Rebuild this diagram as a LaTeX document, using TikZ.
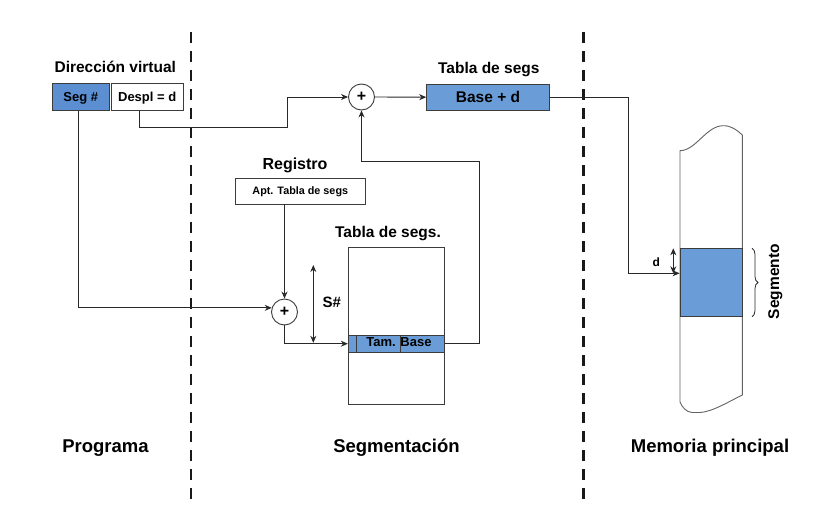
\documentclass[tikz,border=0pt]{standalone}
\usepackage{fontspec}
\setmainfont{Liberation Sans}
\usetikzlibrary{arrows.meta,decorations.pathreplacing}
\definecolor{segblue}{RGB}{106,157,216}
\definecolor{segblued}{RGB}{91,143,210}
\definecolor{ln}{RGB}{40,40,40}
\definecolor{bx}{RGB}{60,60,60}
\newcommand{\fs}[1]{\fontsize{#1}{#1}\selectfont\bfseries}
\begin{document}
\begin{tikzpicture}[x=1pt,y=-1pt,
  arr/.style={draw=ln, line width=0.9pt, -{Stealth[length=7pt,width=6pt]}},
  dbl/.style={draw=ln, line width=0.9pt, {Stealth[length=7pt,width=6pt]}-{Stealth[length=7pt,width=6pt]}},
  plain/.style={draw=ln, line width=0.9pt},
  boxw/.style={draw=bx, line width=0.9pt, fill=white, inner sep=0pt, text depth=0pt},
  boxb/.style={draw=bx, line width=0.9pt, fill=segblue, inner sep=0pt, text depth=0pt},
  plusc/.style={circle, draw=bx, line width=0.9pt, fill=white, minimum size=26pt, inner sep=0pt, font=\fs{16}},
  lbl/.style={anchor=base, inner sep=0pt},
  divider/.style={draw=black!90, line width=2.6pt, dash pattern=on 11pt off 8pt}
]
\fill[white] (0,0) rectangle (838,506);
\useasboundingbox (0,0) rectangle (838,506);

% dividers
\draw[divider] (191,32) -- (191,500);
\draw[divider] (583.5,32) -- (583.5,500);

% Program side
\node[lbl, font=\fs{15.5}] (dv) at (115.3,72.7) {Dirección virtual};
\node[boxb, fill=segblued, minimum width=56.7pt, minimum height=27pt, font=\fs{13}] (seg) at (80.7,97) {Seg \#};
\node[boxw, minimum width=72.3pt, minimum height=27pt, font=\fs{13}] (despl) at (147.2,97) {Despl = d};

% adders
\node[plusc] (plus1) at (361.5,97) {+};
\node[plusc] (plus2) at (284.5,312) {+};

% Tabla de segs (top)
\node[lbl, font=\fs{15.5}] (tsl) at (488.8,73.3) {Tabla de segs};
\node[boxb, minimum width=122.6pt, minimum height=25.7pt, font=\fs{15.5}] (base) at (488,97.2) {Base + d};

% Registro
\node[lbl, font=\fs{16}] (regl) at (295,169) {Registro};
\node[boxw, minimum width=130.7pt, minimum height=26pt, font=\fs{10.8}] (reg) at (300.3,191) {Apt. Tabla de segs};

% Segment table
\node[lbl, font=\fs{15.5}] (ttl) at (388,237.7) {Tabla de segs.};
\node[draw=bx, line width=0.9pt, fill=white, minimum width=96pt, minimum height=156.7pt, inner sep=0pt] (table) at (396.3,325.7) {};
\node[draw=bx, line width=0.9pt, fill=segblue, minimum width=96pt, minimum height=17.3pt, inner sep=0pt] (row) at (396.3,343.7) {};
\draw[draw=bx, line width=0.8pt] (356.7,335) -- (356.7,352.3);
\draw[draw=bx, line width=0.8pt] (400.3,335) -- (400.3,352.3);
\node[lbl, font=\fs{13}] (tam) at (381,346.7) {Tam.};
\node[lbl, font=\fs{13}] (bas) at (416,346.7) {Base};
\node[lbl, font=\fs{15}] (sl) at (331.8,307.3) {S\#};

% Memory
\draw[draw=bx!80, line width=0.9pt, fill=white]
  (680,150.7) .. controls (696,150.5) and (706,126) .. (723,125.7)
  .. controls (731,125.5) and (737,130) .. (742.3,135)
  -- (742.3,395) .. controls (730,401) and (712,412) .. (700,412.5)
  -- (692,412.5) .. controls (686,412) and (682,407) .. (680,402) -- cycle;
\node[draw=bx, line width=0.9pt, fill=segblue, minimum width=62.3pt, minimum height=68.4pt, inner sep=0pt] (segm) at (711.15,282.5) {};
\node[lbl, font=\fs{12}] (dl) at (656.3,266) {d};
\draw[draw=ln, line width=0.8pt, decorate, decoration={brace, amplitude=6pt}] (752,248.3) -- (752,316.7);
\node[lbl, font=\fs{15.5}, rotate=90] (segl) at (779,281.7) {Segmento};

% bottom labels
\node[lbl, font=\fs{18.5}] (prog) at (105.5,452) {Programa};
\node[lbl, font=\fs{18.5}] (sgm) at (396.5,452) {Segmentación};
\node[lbl, font=\fs{18.5}] (mem) at (710,452) {Memoria principal};

% connectors
\coordinate (k1) at (287,127);
\coordinate (k2) at (628.3,273.3);
\coordinate (k3) at (479,161.7);
\coordinate (s1) at (313.3,265);
\coordinate (s2) at (313.3,342.8);
\coordinate (d1) at (673.3,248.3);
\coordinate (d2) at (673.3,273.3);

\draw[arr] ([xshift=-2.7pt]seg.south) |- (plus2.162);
\draw[arr] ([xshift=-8.2pt]despl.south) |- (k1) |- (plus1.west);
\draw[arr] (plus1.east) -- (base.west);
\draw[arr] (base.east) -| (k2) -- (k2 -| segm.west);
\draw[arr] (row.east) -| (k3) -| (plus1.south);
\draw[arr] (reg.south -| plus2.north) -- (plus2.north);
\draw[arr] (plus2.south) |- (row.west);
\draw[dbl] (s1) -- (s2);
\draw[dbl] (d1) -- (d2);
\end{tikzpicture}
\end{document}
